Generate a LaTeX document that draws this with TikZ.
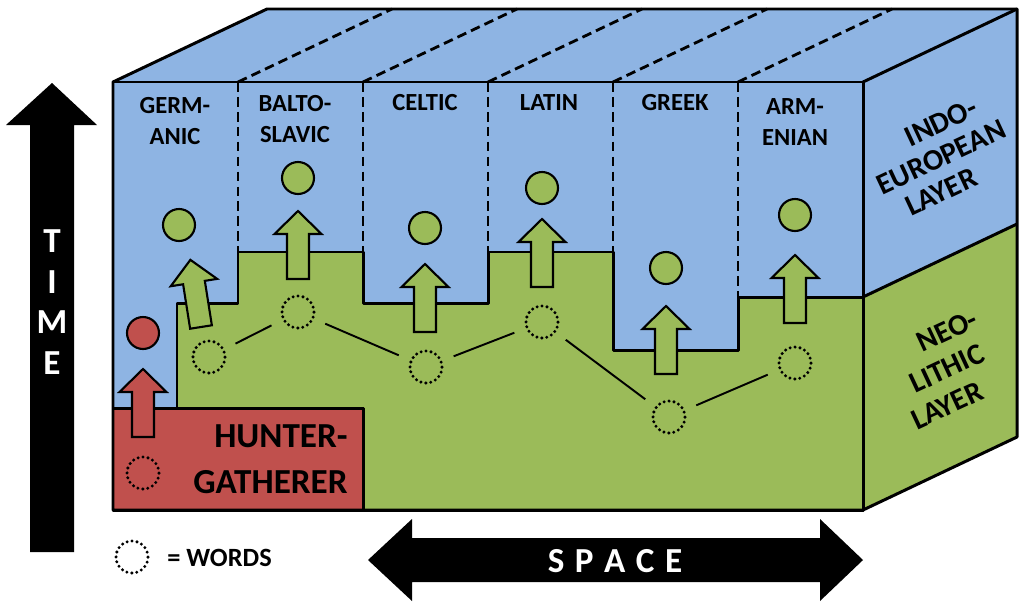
\documentclass[tikz,border=0pt]{standalone}
\usepackage{fontspec}
\setmainfont{Carlito}
\usepackage{xcolor}
\usepackage{tikz}

\definecolor{ieblue}{RGB}{142,180,227}
\definecolor{neogreen}{RGB}{155,187,89}
\definecolor{hgred}{RGB}{192,80,77}

\tikzset{
  lang/.style={font=\fontsize{14}{18}\selectfont\bfseries, align=center, inner sep=0pt},
  layer/.style={font=\fontsize{17}{18}\selectfont\bfseries, align=center, inner sep=0pt, rotate=25},
  newword/.style={circle, draw, fill=neogreen, minimum size=0.64cm, inner sep=0pt, line width=1.2pt},
  oldword/.style={circle, draw, minimum size=0.64cm, inner sep=0pt, line width=1.9pt, dash pattern=on 0pt off 2.85pt, line cap=round},
  link/.style={line width=1.1pt, shorten <=0.24cm, shorten >=0.24cm},
  edge/.style={line width=1.7pt, line join=round},
  border/.style={line width=1.6pt, dash pattern=on 5.5pt off 3pt},
  pics/uparrow/.style={code={
    \draw[line width=1.2pt, line join=miter, fill=#1] (-11,0) -- (-11,-45) -- (-23.5,-45) -- (0,-68) -- (23.5,-45) -- (11,-45) -- (11,0) -- cycle;
  }}
}

\begin{document}
\begin{tikzpicture}[x=0.02cm, y=-0.02cm]
  \useasboundingbox (0,0) rectangle (1023,602);

  % faces of the block
  \fill[ieblue] (113,82) rectangle (863,510);
  \fill[ieblue] (113,82) -- (267,9) -- (1017,9) -- (863,82) -- cycle;
  \fill[ieblue] (863,82) -- (1017,9) -- (1017,224) -- (863,297) -- cycle;
  \fill[neogreen] (863,297) -- (1017,224) -- (1017,437) -- (863,510) -- cycle;

  % neolithic layer
  \draw[edge, fill=neogreen] (177,408) -- (177,303) -- (238,303) -- (238,252) -- (363,252) -- (363,303)
    -- (488,303) -- (488,252) -- (613,252) -- (613,350) -- (738,350) -- (738,297) -- (863,297)
    -- (863,510) -- (363,510) -- (363,408) -- cycle;
  % hunter-gatherer layer
  \draw[edge, fill=hgred] (113,408) rectangle (363,510);

  % branch borders
  \foreach \x in {238,363,488,613,738}
    \draw[border] (\x,82) -- ++(154,-73);
  \foreach \x/\y in {238/252, 363/252, 488/252, 613/252, 738/297}
    \draw[border] (\x,82) -- (\x,\y);

  % outline
  \draw[edge] (113,510) -- (113,82) -- (267,9) -- (1017,9) -- (1017,437) -- (863,510) -- cycle;
  \draw[edge] (113,82) -- (863,82) -- (863,510);
  \draw[edge] (863,82) -- (1017,9);
  \draw[edge] (863,297) -- (1017,224);

  % branch names
  \node[lang] (germ) at (175,121) {GERM-\\ANIC};
  \node[lang] (balto) at (295,119) {BALTO-\\SLAVIC};
  \node[lang] (celt) at (425,103) {CELTIC};
  \node[lang] (latin) at (549,103) {LATIN};
  \node[lang] (greek) at (675,103) {GREEK};
  \node[lang] (arm) at (795,122) {ARM-\\ENIAN};

  % layer names
  \node[layer] (ielayer) at (941,157) {\hspace*{16.8pt}INDO-\\EUROPEAN\\LAYER\hspace*{16.8pt}};
  \node[layer, font=\fontsize{17}{19.3}\selectfont\bfseries] (neolayer) at (947,368) {\hspace*{18pt}NEO-\\LITHIC\\LAYER\hspace*{18pt}};
  \node[font=\fontsize{20}{26}\selectfont\bfseries, align=right, anchor=east, inner sep=0pt] (hglayer) at (348,459) {HUNTER-\\GATHERER};

  % shifts up
  \pic[rotate=9] at (201,327) {uparrow=neogreen};
  \pic at (298,279) {uparrow=neogreen};
  \pic at (425,332) {uparrow=neogreen};
  \pic at (542,287) {uparrow=neogreen};
  \pic at (666,374) {uparrow=neogreen};
  \pic at (795,323) {uparrow=neogreen};
  \pic at (143,437) {uparrow=hgred};

  % words of the later layer
  \node[newword] (gnew) at (179,225) {};
  \node[newword] (bnew) at (298,178) {};
  \node[newword] (cnew) at (425,228) {};
  \node[newword] (lnew) at (542,188) {};
  \node[newword] (grnew) at (666,268) {};
  \node[newword] (anew) at (795,215) {};
  \node[newword, fill=hgred] (hnew) at (143,333) {};

  % words of the older layer
  \node[oldword] (gold) at (209,357) {};
  \node[oldword] (bold) at (298,312) {};
  \node[oldword] (cold) at (426,367) {};
  \node[oldword] (lold) at (542,322) {};
  \node[oldword] (grold) at (669,417) {};
  \node[oldword] (aold) at (795,363) {};
  \node[oldword] (hold) at (143,473) {};
  \draw[link] (gold) -- (bold);
  \draw[link] (bold) -- (cold);
  \draw[link] (cold) -- (lold);
  \draw[link] (lold) -- (grold);
  \draw[link] (grold) -- (aold);

  % legend
  \node[oldword] (key) at (132,557) {};
  \node[font=\fontsize{15}{18}\selectfont\bfseries, anchor=west, inner sep=0pt] (keytext) at (167,558) {= WORDS};

  % axes
  \fill (30,552) -- (30,125) -- (6,125) -- (52,83) -- (97,125) -- (74,125) -- (74,552) -- cycle;
  \node[font=\fontsize{20}{23}\selectfont\bfseries, text=white, align=center, inner sep=0pt] (timelbl) at (52,302) {T\\I\\M\\E};
  \fill (368,560) -- (412,519) -- (412,538) -- (820,538) -- (820,519) -- (863,560) -- (820,601) -- (820,582) -- (412,582) -- (412,601) -- cycle;
  \node[font=\fontsize{20}{24}\selectfont\bfseries, text=white, inner sep=0pt] (spacelbl) at (615,561) {S\hspace{6pt}P\hspace{6pt}A\hspace{6pt}C\hspace{6pt}E};
\end{tikzpicture}
\end{document}
